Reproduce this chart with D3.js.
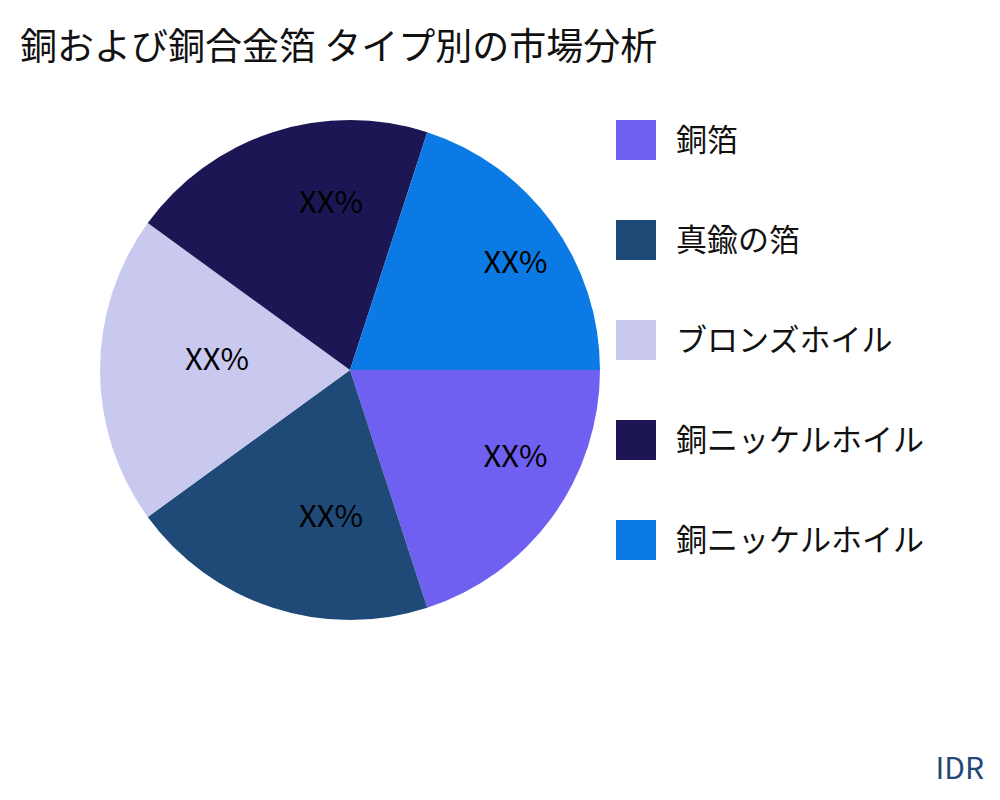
<!DOCTYPE html>
<html><head><meta charset="utf-8">
<script src="https://cdn.jsdelivr.net/npm/d3@7"></script>
<style>body{margin:0;background:#fff}</style>
</head><body>
<svg id="chart" width="1000" height="800"></svg>
<script>
const categories = ['銅箔', '真鍮の箔', 'ブロンズホイル', '銅ニッケルホイル', '銅ニッケルホイル'];
const values = [20, 20, 20, 20, 20];
const labels = ['XX%', 'XX%', 'XX%', 'XX%', 'XX%'];
const colors = ['#7060f2', '#1f4a78', '#c9c9f0', '#1c1754', '#0b7ae4'];

const font = '"Noto Sans CJK JP", "Noto Sans", sans-serif';
const svg = d3.select('#chart');

svg.append('text').attr('x', 20).attr('y', 60)
  .attr('font-family', font).attr('font-size', 37).attr('fill', '#111')
  .text('銅および銅合金箔 タイプ別の市場分析');

const cx = 350, cy = 370, r = 250;
const g = svg.append('g').attr('transform', `translate(${cx},${cy})`);

const pie = d3.pie().sort(null)
  .startAngle(Math.PI / 2).endAngle(Math.PI / 2 + 2 * Math.PI);
const arcs = pie(values);
const arc = d3.arc().innerRadius(0).outerRadius(r);
const labelArc = d3.arc().innerRadius(r * 0.66).outerRadius(r * 0.66);

g.selectAll('path').data(arcs).enter().append('path')
  .attr('d', arc).attr('fill', (d, i) => colors[i]);

// labels are start-anchored at the centroid, as in the reference
g.selectAll('text.lbl').data(arcs).enter().append('text')
  .attr('class', 'lbl')
  .attr('transform', d => `translate(${labelArc.centroid(d)})`)
  .attr('text-anchor', 'start').attr('dy', '0')
  .attr('font-family', font).attr('font-size', 30).attr('fill', '#000')
  .attr('textLength', 64).attr('lengthAdjust', 'spacingAndGlyphs')
  .text((d, i) => labels[i]);

const legend = svg.append('g').attr('transform', 'translate(616,120)');
const item = legend.selectAll('g').data(categories).enter().append('g')
  .attr('transform', (d, i) => `translate(0,${i * 100})`);
item.append('rect').attr('width', 40).attr('height', 40).attr('fill', (d, i) => colors[i]);
item.append('text').attr('x', 60).attr('y', 20).attr('dy', '0.35em')
  .attr('font-family', font).attr('font-size', 31).attr('fill', '#111')
  .text(d => d);

svg.append('text').attr('x', 984).attr('y', 779).attr('text-anchor', 'end')
  .attr('font-family', font).attr('font-size', 30).attr('fill', '#1f4a78')
  .text('IDR');
</script>
</body></html>
